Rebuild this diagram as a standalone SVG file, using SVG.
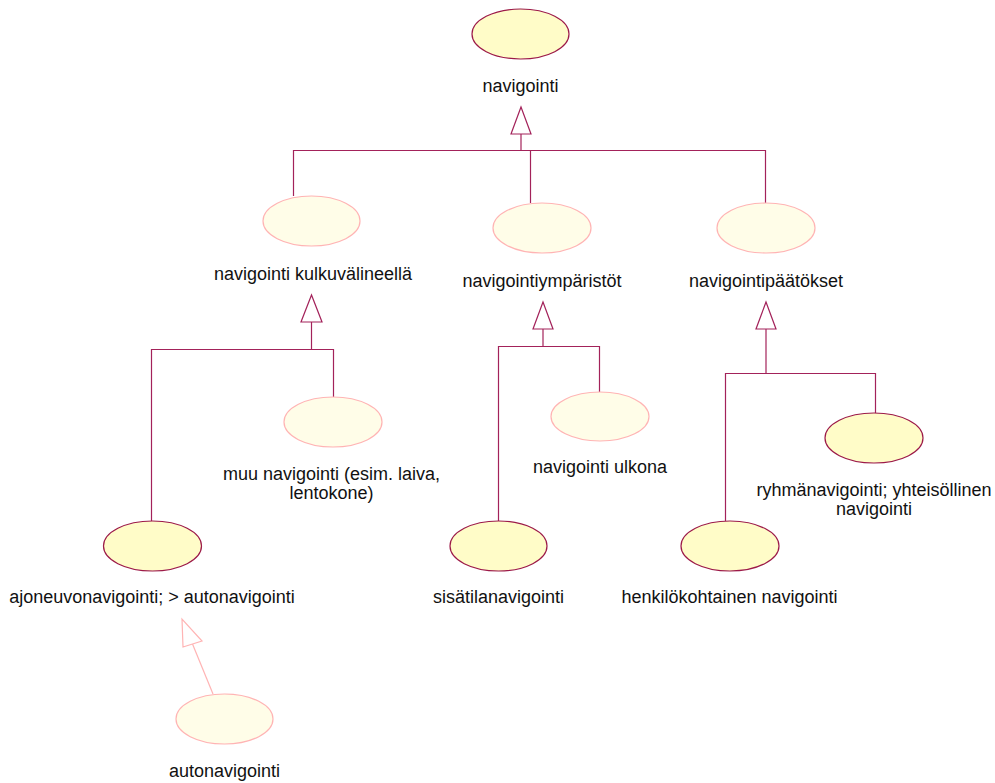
<svg xmlns="http://www.w3.org/2000/svg" width="995" height="783" viewBox="0 0 995 783">
  <style>
    .bg { fill: #ffffff; }
    .uc-strong { fill: #fffcc8; stroke: #9c1a48; stroke-width: 1.2; }
    .uc-pale { fill: #fffde8; stroke: #ffb4b4; stroke-width: 1.2; }
    .lbl { font-family: "Liberation Sans", Arial, Helvetica, sans-serif; font-size: 18px; fill: #111111; text-anchor: middle; }
    .gen { fill: none; stroke: #a3225a; stroke-width: 1.2; }
    .gen-head { fill: #ffffff; stroke: #a3225a; stroke-width: 1.2; }
    .gen-pale { fill: none; stroke: #ffb4b4; stroke-width: 1.2; }
    .gen-pale-head { fill: #ffffff; stroke: #ffb4b4; stroke-width: 1.2; }
  </style>
  <rect class="bg" x="0" y="0" width="995" height="783"/>

  <!-- generalization connectors -->
  <g id="connectors">
    <!-- children of navigointi -->
    <polyline class="gen" points="293.5,196 293.5,150.5 765.5,150.5 765.5,203"/>
    <line class="gen" x1="530.5" y1="150.5" x2="530.5" y2="203"/>
    <line class="gen" x1="521" y1="134" x2="521" y2="150.5"/>
    <polygon class="gen-head" points="521,107 511,134 531,134"/>

    <!-- children of navigointi kulkuvälineellä -->
    <polyline class="gen" points="151.5,521 151.5,349.5 333.5,349.5 333.5,397"/>
    <line class="gen" x1="311.5" y1="322" x2="311.5" y2="349.5"/>
    <polygon class="gen-head" points="311.5,295 301,322 322,322"/>

    <!-- children of navigointiympäristöt -->
    <polyline class="gen" points="498.5,521 498.5,346.5 599.5,346.5 599.5,392"/>
    <line class="gen" x1="543" y1="329" x2="543" y2="346.5"/>
    <polygon class="gen-head" points="543,302 533,329 553,329"/>

    <!-- children of navigointipäätökset -->
    <polyline class="gen" points="725.5,521 725.5,373.5 875.5,373.5 875.5,413"/>
    <line class="gen" x1="766" y1="329" x2="766" y2="373.5"/>
    <polygon class="gen-head" points="766,302 756,329 776,329"/>

    <!-- autonavigointi specialises ajoneuvonavigointi -->
    <line class="gen-pale" x1="192.5" y1="644" x2="213" y2="694"/>
    <polygon class="gen-pale-head" points="182,619 183,647 202,641"/>
  </g>

  <g id="navigointi">
    <ellipse class="uc-strong" cx="520.5" cy="34" rx="48.5" ry="25"/>
    <text class="lbl" x="520.5" y="92">navigointi</text>
  </g>

  <g id="navigointi-kulkuvalineella">
    <ellipse class="uc-pale" cx="311.5" cy="221" rx="48.5" ry="25"/>
    <text class="lbl" x="313" y="280">navigointi kulkuvälineellä</text>
  </g>

  <g id="navigointiymparistot">
    <ellipse class="uc-pale" cx="542" cy="228" rx="49" ry="25"/>
    <text class="lbl" x="542" y="287">navigointiympäristöt</text>
  </g>

  <g id="navigointipaatokset">
    <ellipse class="uc-pale" cx="766" cy="228" rx="49" ry="25"/>
    <text class="lbl" x="766" y="287">navigointipäätökset</text>
  </g>

  <g id="muu-navigointi">
    <ellipse class="uc-pale" cx="333" cy="422" rx="49" ry="25"/>
    <text class="lbl" x="331.5" y="480">muu navigointi (esim. laiva,</text>
    <text class="lbl" x="331.5" y="499">lentokone)</text>
  </g>

  <g id="navigointi-ulkona">
    <ellipse class="uc-pale" cx="600" cy="416.5" rx="49" ry="24.5"/>
    <text class="lbl" x="600" y="473">navigointi ulkona</text>
  </g>

  <g id="ryhmanavigointi">
    <ellipse class="uc-strong" cx="874" cy="438" rx="49" ry="25"/>
    <text class="lbl" x="874" y="496">ryhmänavigointi; yhteisöllinen</text>
    <text class="lbl" x="874" y="515">navigointi</text>
  </g>

  <g id="ajoneuvonavigointi">
    <ellipse class="uc-strong" cx="152.5" cy="546" rx="49" ry="25"/>
    <text class="lbl" x="152" y="603">ajoneuvonavigointi; &gt; autonavigointi</text>
  </g>

  <g id="sisatilanavigointi">
    <ellipse class="uc-strong" cx="498.5" cy="546" rx="48.5" ry="25"/>
    <text class="lbl" x="498.5" y="603">sisätilanavigointi</text>
  </g>

  <g id="henkilokohtainen-navigointi">
    <ellipse class="uc-strong" cx="730" cy="546" rx="49" ry="25"/>
    <text class="lbl" x="729.5" y="603">henkilökohtainen navigointi</text>
  </g>

  <g id="autonavigointi">
    <ellipse class="uc-pale" cx="224.5" cy="719" rx="48.5" ry="25"/>
    <text class="lbl" x="224.5" y="777">autonavigointi</text>
  </g>
</svg>
